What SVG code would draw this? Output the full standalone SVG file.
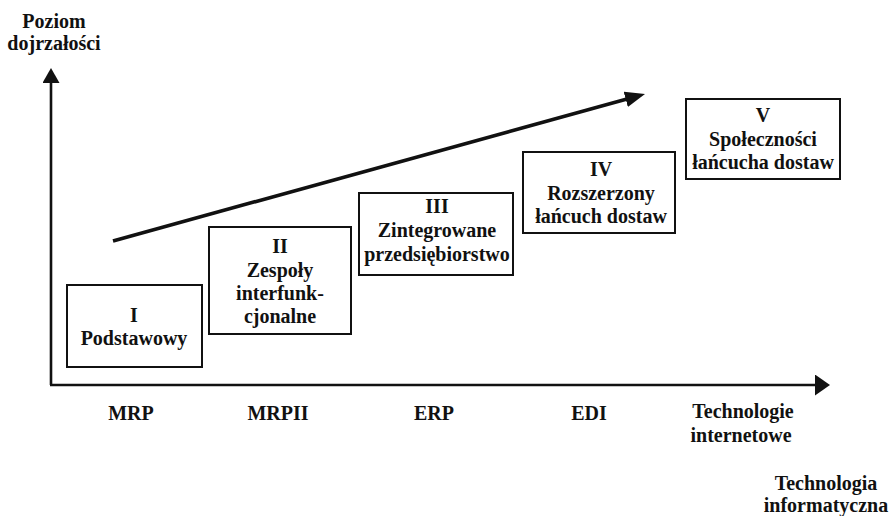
<svg xmlns="http://www.w3.org/2000/svg" width="893" height="516" viewBox="0 0 893 516">
  <style>
    .t { font-family: "Liberation Serif", "Times New Roman", serif; font-size: 20px; font-weight: bold; fill: #111; text-anchor: middle; }
    .box { fill: #fff; stroke: #111; stroke-width: 2; }
    .axis { stroke: #111; stroke-width: 2.6; fill: none; }
    .trend { stroke: #111; stroke-width: 3.6; fill: none; }
  </style>
  <defs>
    <marker id="axHeadY" markerUnits="userSpaceOnUse" markerWidth="16" markerHeight="18" refX="3" refY="8.5" orient="auto">
      <path d="M0,0 L15,8.5 L0,17 z" fill="#111"/>
    </marker>
    <marker id="axHeadX" markerUnits="userSpaceOnUse" markerWidth="16" markerHeight="22" refX="3" refY="10.5" orient="auto">
      <path d="M0,0 L15,10.5 L0,21 z" fill="#111"/>
    </marker>
    <marker id="trendHead" markerUnits="userSpaceOnUse" markerWidth="22" markerHeight="18" refX="6" refY="8" orient="auto">
      <path d="M0,0 L20,8 L0,16 z" fill="#111"/>
    </marker>
  </defs>
  <rect width="893" height="516" fill="#fff"/>

  <g id="connectors">
    <line class="axis" x1="51" y1="385" x2="51" y2="80" marker-end="url(#axHeadY)"/>
    <line class="axis" x1="50" y1="385" x2="818" y2="385" marker-end="url(#axHeadX)"/>
    <line class="trend" x1="113" y1="241" x2="631.5" y2="97.7" marker-end="url(#trendHead)"/>
  </g>

  <g id="axis-y-label">
    <text class="t" x="54" y="28">Poziom</text>
    <text class="t" x="54" y="50">dojrzałości</text>
  </g>
  <g id="axis-x-label">
    <text class="t" x="826" y="490">Technologia</text>
    <text class="t" x="826" y="512">informatyczna</text>
  </g>

  <g id="node-1">
    <rect class="box" x="67" y="285" width="135" height="82"/>
    <text class="t" x="134" y="322">I</text>
    <text class="t" x="134" y="345">Podstawowy</text>
  </g>
  <g id="node-2">
    <rect class="box" x="209" y="227" width="142" height="107"/>
    <text class="t" x="280" y="253">II</text>
    <text class="t" x="280" y="277">Zespoły</text>
    <text class="t" x="280" y="300">interfunk-</text>
    <text class="t" x="280" y="323">cjonalne</text>
  </g>
  <g id="node-3">
    <rect class="box" x="359" y="193" width="154" height="82"/>
    <text class="t" x="437" y="213">III</text>
    <text class="t" x="437" y="237">Zintegrowane</text>
    <text class="t" x="437" y="261">przedsiębiorstwo</text>
  </g>
  <g id="node-4">
    <rect class="box" x="523" y="152" width="152" height="81"/>
    <text class="t" x="601" y="176">IV</text>
    <text class="t" x="601" y="200">Rozszerzony</text>
    <text class="t" x="601" y="223">łańcuch dostaw</text>
  </g>
  <g id="node-5">
    <rect class="box" x="686" y="99" width="154" height="80"/>
    <text class="t" x="763" y="122">V</text>
    <text class="t" x="763" y="146">Społeczności</text>
    <text class="t" x="763" y="169">łańcucha dostaw</text>
  </g>

  <g id="tick-labels">
    <text class="t" x="131" y="420">MRP</text>
    <text class="t" x="278" y="420">MRPII</text>
    <text class="t" x="434" y="420">ERP</text>
    <text class="t" x="589" y="420">EDI</text>
    <text class="t" x="743" y="418">Technologie</text>
    <text class="t" x="741" y="442">internetowe</text>
  </g>
</svg>
